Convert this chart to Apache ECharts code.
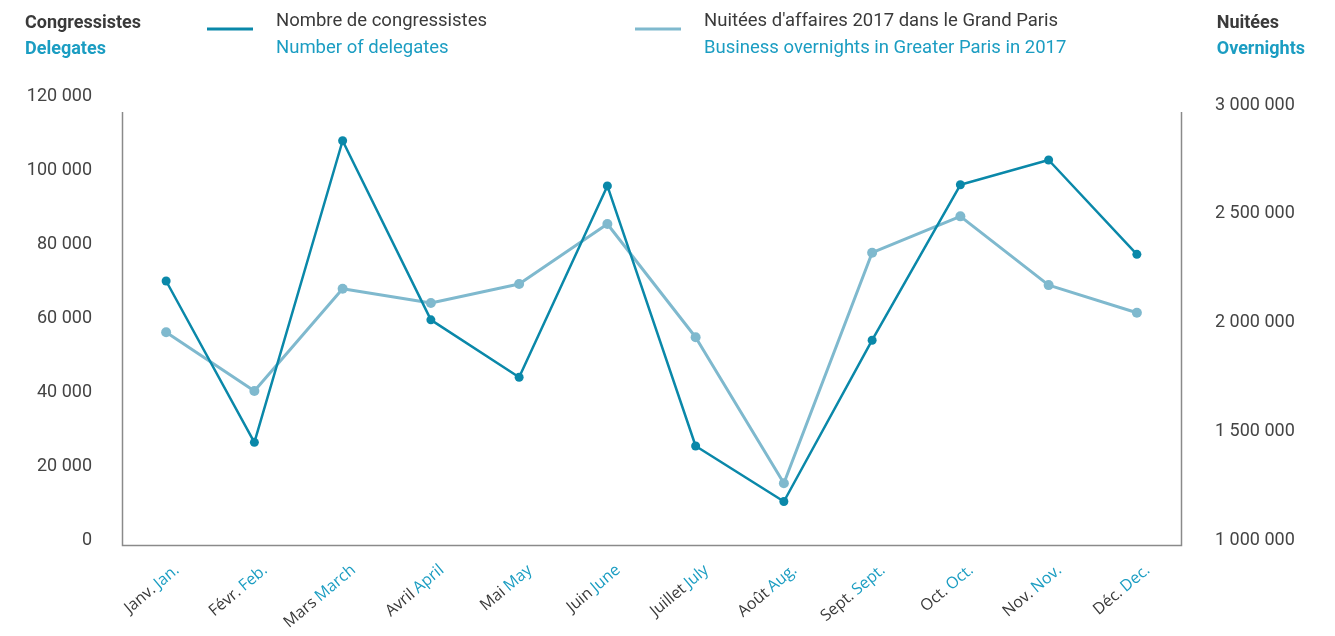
<!DOCTYPE html>
<html>
<head>
<meta charset="utf-8">
<script src="https://cdn.jsdelivr.net/npm/echarts@6/dist/echarts.min.js"></script>
<style>
  html, body { margin: 0; padding: 0; background: #fff; }
  #chart { width: 1335px; height: 636px; }
</style>
</head>
<body>
<div id="chart"></div>
<script>
const monthsFr = ['Janv.', 'Févr.', 'Mars', 'Avril', 'Mai', 'Juin', 'Juillet', 'Août', 'Sept.', 'Oct.', 'Nov.', 'Déc.']
const monthsEn = ['Jan.', 'Feb.', 'March', 'April', 'May', 'June', 'July', 'Aug.', 'Sept.', 'Oct.', 'Nov.', 'Dec.']

// Nombre de congressistes / Number of delegates (left axis)
const delegates = [70000, 26400, 107900, 59500, 44000, 95700, 25400, 10400, 54000, 96000, 102700, 77200]
// Nuitées d'affaires 2017 / Business overnights (right axis)
const overnights = [1955000, 1685000, 2155000, 2090000, 2177000, 2453000, 1932000, 1261000, 2321000, 2488000, 2172000, 2045000]

const leftTicks = { min: 0, max: 120000, interval: 20000 }
const rightTicks = { min: 1000000, top: 3000000, interval: 500000 }

const DARK = '#0a88a9'
const LIGHT = '#7fb9ce'
const TEAL_TEXT = '#1b9dc2'
const TEXT = '#3a3a3a'

const fmt = v => String(v).replace(/\B(?=(\d{3})+(?!\d))/g, ' ')

const chart = echarts.init(document.getElementById('chart'))

// the right scale sits slightly lower than the left one in the original
const rightMax = rightTicks.min + (rightTicks.top - rightTicks.min) * 444 / 435

const legendRich = {
  a: { color: TEXT, fontSize: 18.5, lineHeight: 27, fontFamily: 'Roboto' },
  b: { color: TEAL_TEXT, fontSize: 18.5, lineHeight: 27, fontFamily: 'Roboto' },
}
const titleRich = {
  a: { color: TEXT, fontSize: 18, fontWeight: 'bold', lineHeight: 26, fontFamily: 'Roboto' },
  b: { color: TEAL_TEXT, fontSize: 18, fontWeight: 'bold', lineHeight: 26, fontFamily: 'Roboto' },
}

chart.setOption({
  backgroundColor: '#fff',
  animation: false,
  title: [
    { left: 25, top: 10, padding: 0, text: '{a|Congressistes}\n{b|Delegates}', textStyle: { rich: titleRich } },
    { right: 30, top: 10, padding: 0, text: '{a|Nuitées}\n{b|Overnights}', textStyle: { rich: titleRich } },
  ],
  legend: [
    {
      data: ['delegates'], left: 207, top: 12, padding: 0,
      icon: 'rect', itemWidth: 46, itemHeight: 3,
      formatter: () => '{a|Nombre de congressistes}\n{b|Number of delegates}',
      textStyle: { padding: [12, 0, 0, 18], rich: legendRich },
    },
    {
      data: ['overnights'], left: 635, top: 12, padding: 0,
      icon: 'rect', itemWidth: 46, itemHeight: 3,
      formatter: () => "{a|Nuitées d'affaires 2017 dans le Grand Paris}\n{b|Business overnights in Greater Paris in 2017}",
      textStyle: { padding: [12, 0, 0, 18], rich: legendRich },
    },
  ],
  grid: { left: 122, right: 154, top: 96, bottom: 96 },
  xAxis: {
    type: 'category',
    data: monthsFr.map((m, i) => i),
    boundaryGap: true,
    axisLine: { show: false },
    axisTick: { show: false },
    axisLabel: {
      rotate: 40,
      margin: 15,
      interval: 0,
      padding: [34, 0, 0, 0],
      formatter: (v, i) => `{fr|${monthsFr[i]}} {en|${monthsEn[i]}}`,
      rich: {
        fr: { color: TEXT, fontSize: 16, fontFamily: 'Open Sans' },
        en: { color: TEAL_TEXT, fontSize: 16, fontFamily: 'Open Sans' },
      },
    },
  },
  yAxis: [
    {
      type: 'value',
      min: leftTicks.min, max: leftTicks.max, interval: leftTicks.interval,
      axisLine: { show: false },
      axisTick: { show: false },
      splitLine: { show: false },
      axisLabel: { margin: 30, padding: [4, 0, 0, 0], color: '#444', fontSize: 18, fontFamily: 'Roboto', formatter: fmt },
    },
    {
      type: 'value',
      position: 'right',
      min: rightTicks.min, max: rightMax, interval: rightTicks.interval,
      axisLine: { show: false },
      axisTick: { show: false },
      splitLine: { show: false },
      axisLabel: { margin: 34, padding: [4, 0, 0, 0], color: '#444', fontSize: 18, fontFamily: 'Roboto', showMaxLabel: false, formatter: fmt },
    },
  ],
  graphic: [
    {
      type: 'polyline',
      silent: true,
      shape: { points: [[122.5, 112], [122.5, 545.5], [1181.5, 545.5], [1181.5, 112]] },
      style: { stroke: '#8a8a8a', lineWidth: 1.5, fill: null },
    },
  ],
  series: [
    {
      name: 'overnights',
      type: 'line',
      yAxisIndex: 1,
      data: overnights,
      symbol: 'circle',
      symbolSize: 10,
      itemStyle: { color: LIGHT },
      lineStyle: { color: LIGHT, width: 3 },
    },
    {
      name: 'delegates',
      type: 'line',
      yAxisIndex: 0,
      data: delegates,
      symbol: 'circle',
      symbolSize: 9,
      itemStyle: { color: DARK },
      lineStyle: { color: DARK, width: 2.5 },
    },
  ],
})
</script>
</body>
</html>
